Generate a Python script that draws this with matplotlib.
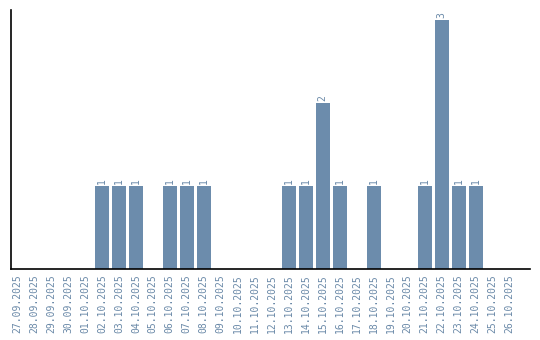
import matplotlib
matplotlib.use('Agg')
import matplotlib.pyplot as plt
import numpy as np

dates = ['27.09.2025', '28.09.2025', '29.09.2025', '30.09.2025', '01.10.2025',
         '02.10.2025', '03.10.2025', '04.10.2025', '05.10.2025', '06.10.2025',
         '07.10.2025', '08.10.2025', '09.10.2025', '10.10.2025', '11.10.2025',
         '12.10.2025', '13.10.2025', '14.10.2025', '15.10.2025', '16.10.2025',
         '17.10.2025', '18.10.2025', '19.10.2025', '20.10.2025', '21.10.2025',
         '22.10.2025', '23.10.2025', '24.10.2025', '25.10.2025', '26.10.2025']
counts = [0, 0, 0, 0, 0, 1, 1, 1, 0, 1, 1, 1, 0, 0, 0,
          0, 1, 1, 2, 1, 0, 1, 0, 0, 1, 3, 1, 1, 0, 0]

bar_color = '#6c8cac'
text_color = '#6a89a8'

fig = plt.figure(figsize=(5.4, 3.4), dpi=100)
ax = fig.add_axes([0.0204, 0.2088, 0.9611, 0.7618])

x = np.arange(len(dates))
ax.bar(x, counts, width=0.82, color=bar_color)

for i, c in enumerate(counts):
    if c > 0:
        ax.text(i, c + 0.02, str(c), rotation=90, ha='center', va='bottom',
                fontsize=7, color=text_color, family='DejaVu Sans Mono')

ax.set_xlim(-0.35, 30.2)
ax.set_ylim(0, 3.12)
ax.set_xticks(x)
ax.set_xticklabels(dates, rotation=90, fontsize=7, color=text_color,
                   family='DejaVu Sans Mono')
ax.tick_params(axis='x', length=0, pad=4)
ax.set_yticks([])
for s in ['top', 'right']:
    ax.spines[s].set_visible(False)
ax.spines['left'].set_linewidth(1.2)
ax.spines['bottom'].set_linewidth(1.2)

plt.savefig('out.png', dpi=100)
